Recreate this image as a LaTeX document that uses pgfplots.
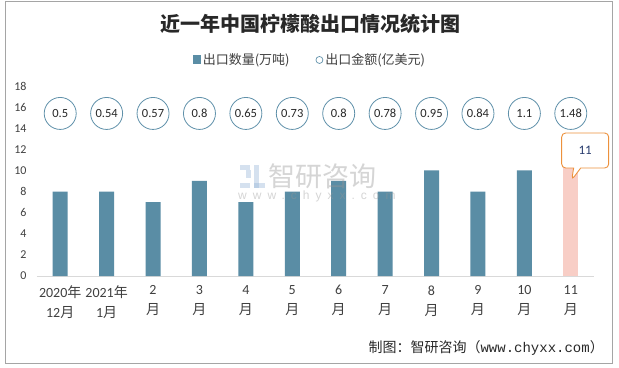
\documentclass[border=0pt]{standalone}
\usepackage{fontspec}
\usepackage{pgfplots}
\pgfplotsset{compat=1.18}
\usetikzlibrary{shapes.callouts}
\setmainfont{Carlito}
\newfontfamily\cjk{Noto Sans CJK SC}
\newfontfamily\mono{Liberation Mono}
\newfontfamily\wm{Liberation Sans}[LetterSpace=50]
\definecolor{barc}{RGB}{90,141,165}
\definecolor{pinkc}{RGB}{248,206,198}
\definecolor{circc}{RGB}{96,145,170}
\definecolor{orangec}{RGB}{237,145,60}
\definecolor{calltxt}{RGB}{40,60,110}
\definecolor{axisc}{RGB}{217,217,217}
\definecolor{framec}{RGB}{165,165,165}
\definecolor{labc}{RGB}{64,64,64}
\definecolor{titlec}{RGB}{40,40,40}
\definecolor{wmc}{RGB}{150,150,150}
\definecolor{logoc}{RGB}{150,180,215}
\begin{document}
\begin{tikzpicture}
\useasboundingbox (0,0) rectangle (619bp,368bp);
\fill[white] (0,0) rectangle (619bp,368bp);
\draw[framec, line width=1bp] (5.5bp,4.5bp) rectangle (612.5bp,366bp);
\node[font=\cjk\bfseries\fontsize{20bp}{24bp}\selectfont, text=titlec] at (310bp,344bp) {近一年中国柠檬酸出口情况统计图};
\begin{axis}[
  at={(37bp,92bp)}, anchor=south west,
  scale only axis, width=557bp, height=190bp,
  xmin=-0.5, xmax=11.5, ymin=0, ymax=18,
  clip=false,
  axis x line*=bottom, axis y line*=left,
  x axis line style={draw=axisc, line width=1bp, -},
  y axis line style={draw=none},
  major tick length=0pt,
  ytick={0,2,...,18},
  xtick={0,...,11},
  xticklabels={{2020\cjk{年}\\12\cjk{月}},{2021\cjk{年}\\1\cjk{月}},{2\\\cjk{月}},{3\\\cjk{月}},{4\\\cjk{月}},{5\\\cjk{月}},{6\\\cjk{月}},{7\\\cjk{月}},{8\\\cjk{月}},{9\\\cjk{月}},{10\\\cjk{月}},{11\\\cjk{月}}},
  /pgf/number format/assume math mode=true,
  yticklabel style={font=\fontsize{12bp}{14bp}\selectfont, text=labc, xshift=-7bp},
  xticklabel style={font=\fontsize{14bp}{20bp}\selectfont, text=labc, align=center, yshift=-6bp},
  legend style={at={(0.49,1.137)}, anchor=center, draw=none, fill=none, legend columns=2,
    font=\cjk\fontsize{13bp}{15bp}\selectfont, text=labc,
    /tikz/every even column/.append style={column sep=24bp}},
]
\addplot[ybar, bar width=15bp, bar shift=0pt, fill=barc, draw=none,
  legend image code/.code={\fill[barc] (0bp,-4.5bp) rectangle (8bp,4.5bp);}]
  coordinates {(0,8) (1,8) (2,7) (3,9) (4,7) (5,8) (6,9) (7,8) (8,10) (9,8) (10,10)};
\addlegendentry{出口数量(万吨)}
\addplot[ybar, bar width=15bp, bar shift=0pt, fill=pinkc, draw=none, forget plot]
  coordinates {(11,11)};
\addplot[only marks, mark=*, mark size=16bp,
  mark options={fill=white, draw=circc, line width=0.8bp},
  point meta=explicit symbolic, nodes near coords,
  every node near coord/.append style={anchor=center, font=\fontsize{12.5bp}{14bp}\selectfont, text=titlec},
  legend image code/.code={\draw[circc, fill=white, line width=0.7bp] (4bp,0bp) circle (3.5bp);}]
  table[meta=label] {
x y label
0 15.4 0.5
1 15.4 0.54
2 15.4 0.57
3 15.4 0.8
4 15.4 0.65
5 15.4 0.73
6 15.4 0.8
7 15.4 0.78
8 15.4 0.95
9 15.4 0.84
10 15.4 1.1
11 15.4 1.48
};
\addlegendentry{出口金额(亿美元)}
\node[rectangle callout, rounded corners=4bp, draw=orangec, fill=white, line width=0.9bp,
  minimum width=47bp, minimum height=35bp, text=calltxt, font=\fontsize{13bp}{15bp}\selectfont,
  callout absolute pointer={(axis cs:11.02,9.1)}] at (axis cs:11.31,11.89) {11};
\end{axis}
% watermark
\begin{scope}[opacity=0.4]
\fill[logoc] (240bp,198bp) rectangle (250bp,203bp);
\fill[logoc] (246bp,190bp) rectangle (251bp,198bp);
\fill[logoc] (240bp,180bp) rectangle (250bp,185bp);
\fill[logoc] (254bp,180bp) rectangle (259bp,203bp);
\fill[logoc] (254bp,180bp) rectangle (265bp,185bp);
\node[font=\cjk\fontsize{27bp}{30bp}\selectfont, text=wmc, anchor=west, inner sep=0pt] at (268bp,192bp) {智研咨询};
\node[font=\wm\fontsize{12bp}{14bp}\selectfont, text=wmc, anchor=west, inner sep=0pt] at (238bp,172bp) {www.chyxx.com};
\end{scope}
\node[anchor=east, font=\fontsize{14bp}{16bp}\selectfont, text=titlec, inner sep=0pt] at (604bp,20bp) {\cjk 制图：智研咨询（\mono www.chyxx.com\cjk ）};
\end{tikzpicture}
\end{document}
